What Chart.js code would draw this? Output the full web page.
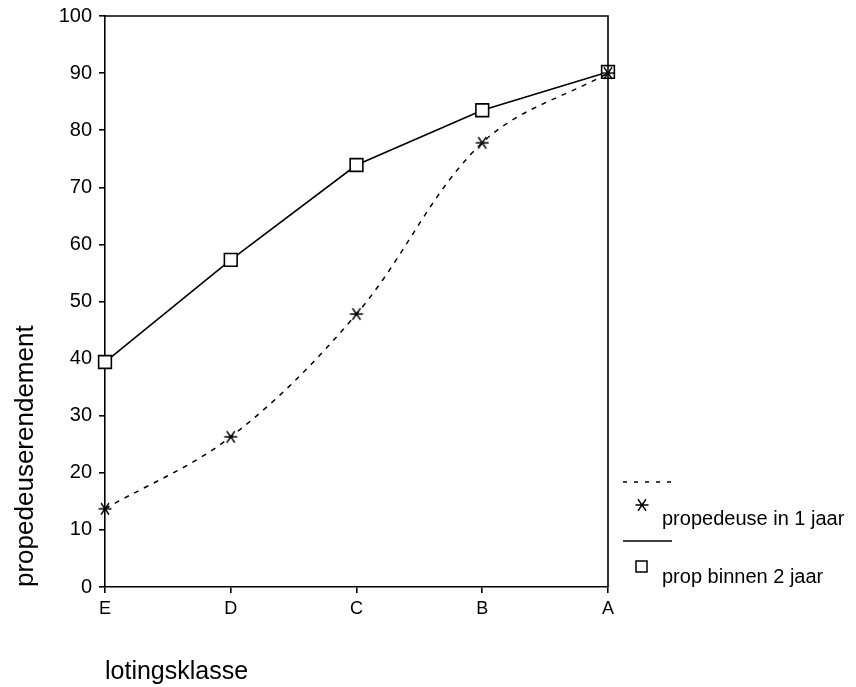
<!DOCTYPE html>
<html>
<head>
<meta charset="utf-8">
<script src="https://cdn.jsdelivr.net/npm/chart.js@4"></script>
<style>
  html, body { margin: 0; padding: 0; background: #fff; }
  #wrap { width: 856px; height: 687px; }
</style>
</head>
<body>
<div id="wrap"><canvas id="chart"></canvas></div>
<script>
const klassen = ["E", "D", "C", "B", "A"];
const propEenJaar = [13.7, 26.3, 47.8, 77.8, 90.0];
const propTweeJaar = [39.4, 57.3, 73.9, 83.5, 90.2];
const yTicks = [0, 10, 20, 30, 40, 50, 60, 70, 80, 90, 100];

const FONT = "'Liberation Sans', Arial, sans-serif";

// six-armed asterisk used as marker
function makeStar() {
  const c = document.createElement("canvas");
  c.width = 16;
  c.height = 16;
  const g = c.getContext("2d");
  g.strokeStyle = "#000";
  g.lineWidth = 1.4;
  g.beginPath();
  g.moveTo(1.5, 8);
  g.lineTo(14.5, 8);
  for (const ang of [55, -55]) {
    const r = ang * Math.PI / 180;
    const dx = Math.cos(r) * 7, dy = Math.sin(r) * 7;
    g.moveTo(8 - dx, 8 - dy);
    g.lineTo(8 + dx, 8 + dy);
  }
  g.stroke();
  return c;
}
const star = makeStar();

// box round the plot, plus the legend on the right
const frame = {
  id: "frame",
  afterDraw(chart) {
    const ctx = chart.ctx;
    const a = chart.chartArea;
    ctx.save();
    ctx.strokeStyle = "#000";
    ctx.lineWidth = 1.6;
    ctx.beginPath();
    ctx.moveTo(a.left, a.top);
    ctx.lineTo(a.right, a.top);
    ctx.lineTo(a.right, a.bottom);
    ctx.stroke();

    ctx.lineWidth = 1.5;
    ctx.setLineDash([4, 7]);
    ctx.beginPath();
    ctx.moveTo(623, 482);
    ctx.lineTo(674, 482);
    ctx.stroke();
    ctx.setLineDash([]);
    ctx.beginPath();
    ctx.moveTo(623, 541);
    ctx.lineTo(672, 541);
    ctx.stroke();

    ctx.drawImage(star, 634, 497);
    ctx.lineWidth = 1.5;
    ctx.strokeRect(636, 561, 11, 11);

    ctx.fillStyle = "#000";
    ctx.font = "20px " + FONT;
    ctx.textBaseline = "alphabetic";
    ctx.fillText("propedeuse in 1 jaar", 662, 525);
    ctx.fillText("prop binnen 2 jaar", 662, 583);
    ctx.restore();
  }
};

new Chart(document.getElementById("chart").getContext("2d"), {
  type: "line",
  data: {
    labels: klassen,
    datasets: [
      {
        label: "propedeuse in 1 jaar",
        data: propEenJaar,
        borderColor: "#000",
        borderWidth: 1.5,
        borderDash: [5, 6],
        tension: 0.35,
        pointStyle: star,
        pointRadius: 8,
        pointBorderColor: "#000"
      },
      {
        label: "prop binnen 2 jaar",
        data: propTweeJaar,
        borderColor: "#000",
        borderWidth: 1.6,
        tension: 0,
        pointStyle: "rect",
        pointRadius: 9,
        pointBorderWidth: 1.6,
        pointBorderColor: "#000",
        pointBackgroundColor: "#fff"
      }
    ]
  },
  options: {
    responsive: true,
    maintainAspectRatio: false,
    animation: false,
    layout: { padding: { top: 16, right: 248, left: 0, bottom: 0 } },
    plugins: {
      legend: { display: false },
      tooltip: { enabled: false }
    },
    scales: {
      x: {
        offset: false,
        afterFit(scale) { scale.height = 100; scale.paddingLeft = 0; scale.paddingRight = 0; },
        grid: { display: true, drawOnChartArea: false, drawTicks: true, tickLength: 6, color: "#000", lineWidth: 1.6 },
        border: { display: true, color: "#000", width: 1.6 },
        ticks: { color: "#000", font: { family: FONT, size: 18 }, padding: 5, maxRotation: 0 },
        title: {
          display: true,
          text: "lotingsklasse",
          align: "start",
          color: "#000",
          font: { family: FONT, size: 25 },
          padding: { top: 0, bottom: 0 }
        }
      },
      y: {
        min: 0,
        max: 100,
        afterFit(scale) { scale.width = 105; scale.paddingTop = 0; scale.paddingBottom = 0; },
        afterBuildTicks(scale) { scale.ticks = yTicks.map(v => ({ value: v })); },
        grid: { display: true, drawOnChartArea: false, drawTicks: true, tickLength: 6, color: "#000", lineWidth: 1.6 },
        border: { display: true, color: "#000", width: 1.6 },
        ticks: { color: "#000", font: { family: FONT, size: 20 }, padding: 7 },
        title: {
          display: true,
          text: "propedeuserendement",
          align: "start",
          color: "#000",
          font: { family: FONT, size: 26 },
          padding: { top: 10, bottom: 0 }
        }
      }
    }
  },
  plugins: [frame]
});
</script>
</body>
</html>
